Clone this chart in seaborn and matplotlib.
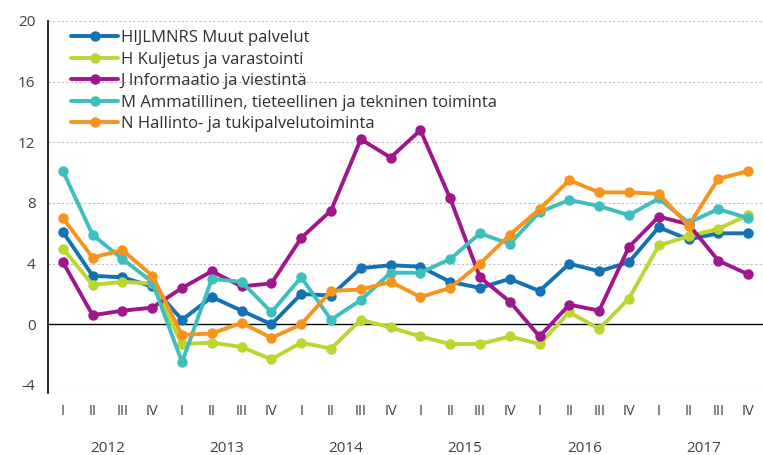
import numpy as np
import pandas as pd
import seaborn as sns
import matplotlib.pyplot as plt

# data: quarterly values 2012 I - 2017 IV
years = ['2012', '2013', '2014', '2015', '2016', '2017']
quarters = ['I', 'II', 'III', 'IV']

muut = [6.1, 3.2, 3.1, 2.5, 0.3, 1.8, 0.9, 0.0, 2.0, 1.9, 3.7, 3.9,
        3.8, 2.8, 2.4, 3.0, 2.2, 4.0, 3.5, 4.1, 6.4, 5.6, 6.0, 6.0]
kuljetus = [5.0, 2.6, 2.8, 2.7, -1.3, -1.2, -1.5, -2.3, -1.2, -1.6, 0.3, -0.2,
            -0.8, -1.3, -1.3, -0.8, -1.3, 0.8, -0.3, 1.7, 5.2, 5.8, 6.3, 7.2]
informaatio = [4.1, 0.6, 0.9, 1.1, 2.4, 3.5, 2.5, 2.7, 5.7, 7.5, 12.2, 11.0,
               12.8, 8.3, 3.1, 1.5, -0.8, 1.3, 0.9, 5.1, 7.1, 6.6, 4.2, 3.3]
ammatillinen = [10.1, 5.9, 4.3, 2.8, -2.5, 3.0, 2.8, 0.8, 3.1, 0.3, 1.6, 3.4,
                3.4, 4.3, 6.0, 5.3, 7.4, 8.2, 7.8, 7.2, 8.3, 6.7, 7.6, 7.0]
hallinto = [7.0, 4.4, 4.9, 3.2, -0.7, -0.6, 0.1, -0.9, 0.0, 2.2, 2.3, 2.8,
            1.8, 2.4, 4.0, 5.9, 7.6, 9.5, 8.7, 8.7, 8.6, 6.5, 9.6, 10.1]

names = ['HIJLMNRS Muut palvelut',
         'H Kuljetus ja varastointi',
         'J Informaatio ja viestintä',
         'M Ammatillinen, tieteellinen ja tekninen toiminta',
         'N Hallinto- ja tukipalvelutoiminta']
colors = ['#1372b3', '#bcd531', '#a0168d', '#3dbfbd', '#f7941d']

series = [muut, kuljetus, informaatio, ammatillinen, hallinto]
n = len(muut)
df = pd.concat([pd.DataFrame({'pos': np.arange(n), 'value': vals, 'sarja': name})
                for name, vals in zip(names, series)], ignore_index=True)

sns.set_style('white')
plt.rcParams['font.family'] = ['Open Sans', 'DejaVu Sans']
plt.rcParams['axes.unicode_minus'] = False

fig = plt.figure(figsize=(7.63, 4.55), dpi=100)
ax = fig.add_axes([48 / 763, 1 - 385 / 455, 715 / 763, 364 / 455])

sns.lineplot(data=df, x='pos', y='value', hue='sarja', hue_order=names,
             palette=dict(zip(names, colors)), marker='o', markersize=7.5,
             markeredgewidth=0, linewidth=2.8, ax=ax, legend=True)

# grid
for v in [-4, 4, 8, 12, 16, 20]:
    ax.axhline(v, color='#c9b8c9', linewidth=0.8, linestyle=(0, (2, 2)), zorder=0)
ax.axhline(0, color='black', linewidth=1.0, zorder=1)

ax.set_ylim(-4, 20)
ax.set_yticks([-4, 0, 4, 8, 12, 16, 20])
ax.set_xlim(-0.5, -0.5 + 715 / 30)

for s in ['top', 'right', 'bottom']:
    ax.spines[s].set_visible(False)
ax.spines['left'].set_color('black')
ax.spines['left'].set_linewidth(1.2)
ax.spines['left'].set_bounds(-4.55, 20)

# quarter labels on minor ticks, year separators as major ticks
ax.set_xticks(np.arange(3.5, n, 4))
ax.set_xticklabels([])
ax.set_xticks(np.arange(n), minor=True)
ax.set_xticklabels(quarters * len(years), minor=True)
ax.tick_params(axis='x', which='major', length=8, width=1.2, color='black', direction='out')
ax.tick_params(axis='x', which='minor', length=0, pad=14, labelsize=10.5, labelcolor='#404040')
ax.tick_params(axis='y', length=5, width=1, color='black', direction='out',
               labelsize=11, labelcolor='#404040', pad=4)
ax.set_xlabel('')
ax.set_ylabel('')

for i, yr in enumerate(years):
    ax.text(4 * i + 1.5, -0.175, yr, transform=ax.get_xaxis_transform(),
            ha='center', va='center', fontsize=11, color='#404040')

leg = ax.legend(loc='upper left', bbox_to_anchor=(0.02, 1.0), frameon=False,
                fontsize=12, handlelength=2.8, handletextpad=0.15,
                labelspacing=0.33, borderaxespad=0.15)
for t in leg.get_texts():
    t.set_color('#303030')

fig.savefig('out.png', dpi=100)
